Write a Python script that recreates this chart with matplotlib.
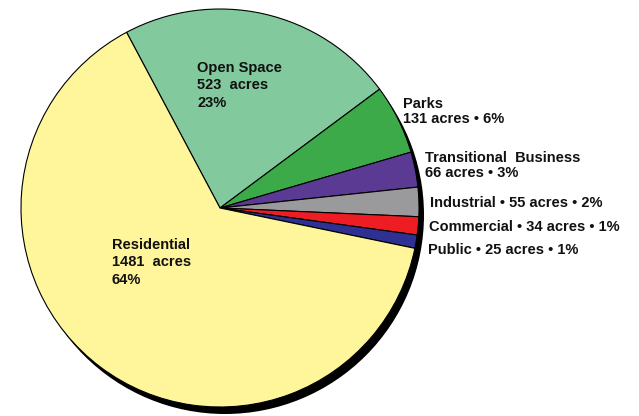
import matplotlib
matplotlib.use("Agg")
import matplotlib.pyplot as plt
from matplotlib.patches import Circle

categories = ["Open Space", "Parks", "Transitional  Business", "Industrial",
              "Commercial", "Public", "Residential"]
acres = [523, 131, 66, 55, 34, 25, 1481]
percents = [23, 6, 3, 2, 1, 1, 64]
colors = ["#82C99D", "#3DAA4A", "#5B3A93", "#9A9A9C", "#EE1D24", "#2E3192", "#FFF59A"]

plt.rcParams['font.family'] = ['Liberation Sans', 'DejaVu Sans']

W, H = 639, 416
fig = plt.figure(figsize=(W / 100, H / 100), dpi=100)
ax = fig.add_axes([0, 0, 1, 1])

cx, cy, r = 220, 208, 199

# shadow
ax.add_patch(Circle((cx + 5, cy - 7), r, facecolor='black', edgecolor='none', zorder=0))

ax.pie(acres, colors=colors, startangle=118, counterclock=False,
       center=(cx, cy), radius=r, frame=True,
       wedgeprops=dict(edgecolor='black', linewidth=0.8, zorder=1))
ax.set_xlim(0, W)
ax.set_ylim(0, H)
ax.set_aspect('equal')
ax.axis('off')

fs = 10.5
kw = dict(fontsize=fs, fontweight='bold', ha='left', va='top', color='#111111', zorder=5)

def lbl(i, mode):
    if mode == 'block3':
        return f"{categories[i]}\n{acres[i]}  acres\n{percents[i]}%"
    if mode == 'block2':
        return f"{categories[i]}\n{acres[i]} acres \u2022 {percents[i]}%"
    return f"{categories[i]} \u2022 {acres[i]} acres \u2022 {percents[i]}%"

ax.text(197, H - 61, lbl(0, 'block3'), linespacing=1.3, **kw)
ax.text(403, H - 97, lbl(1, 'block2'), linespacing=1.1, **kw)
ax.text(425, H - 151, lbl(2, 'block2'), linespacing=1.1, **kw)
ax.text(430, H - 196, lbl(3, 'line'), **kw)
ax.text(429, H - 220, lbl(4, 'line'), **kw)
ax.text(428, H - 243, lbl(5, 'line'), **kw)
ax.text(112, H - 238, lbl(6, 'block3'), linespacing=1.3, **kw)

fig.savefig("out.png", dpi=100)
